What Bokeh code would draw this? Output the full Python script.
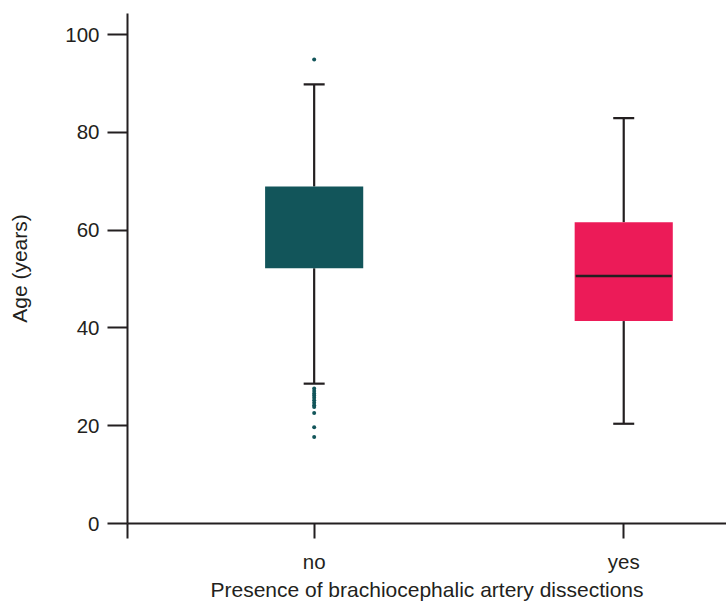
from bokeh.plotting import figure
from bokeh.models import FixedTicker, Range1d
from bokeh.embed import file_html
from bokeh.resources import INLINE

# ---- data ----
categories = ["no", "yes"]
q1 = [52.2, 41.4]
median = [float("nan"), 50.6]      # median of "no" not visible in the reference
q3 = [68.9, 61.6]
lower_whisker = [28.6, 20.4]
upper_whisker = [89.8, 82.9]
box_colors = ["#12555a", "#ec1b58"]
outlier_group = ["no"] * 13
outlier_values = [94.9, 27.6, 27.1, 26.6, 26.2, 25.7, 25.2, 24.7, 24.2, 23.8, 22.6, 19.7, 17.7]
y_ticks = [0, 20, 40, 60, 80, 100]

# ---- layout constants ----
INK = "#231f20"
FONT = "Liberation Sans"
xpos = [i + 1 for i in range(len(categories))]
pos_of = {c: i + 1 for i, c in enumerate(categories)}
x_start, x_end = 0.397, 2.332

p = figure(width=726, height=603, output_backend="svg", toolbar_location=None,
           x_range=Range1d(x_start, x_end), y_range=Range1d(0, 104.3),
           min_border_left=127, min_border_right=0, min_border_top=13,
           min_border_bottom=80)
p.grid.visible = False
p.outline_line_color = None
p.background_fill_color = "white"
p.border_fill_color = "white"

# whiskers
p.segment(x0=xpos, y0=q3, x1=xpos, y1=upper_whisker, line_color=INK, line_width=2.2)
p.segment(x0=xpos, y0=q1, x1=xpos, y1=lower_whisker, line_color=INK, line_width=2.2)
p.scatter(x=xpos, y=upper_whisker, marker="dash", size=21, line_color=INK, line_width=2.2)
p.scatter(x=xpos, y=lower_whisker, marker="dash", size=21, line_color=INK, line_width=2.2)

# boxes
p.vbar(x=xpos, width=0.317, bottom=q1, top=q3, fill_color=box_colors, line_color=None)
p.scatter(x=xpos, y=median, marker="dash", size=96, line_color=INK, line_width=2.5)

# outliers
p.scatter(x=[pos_of[g] for g in outlier_group], y=outlier_values, size=4,
          fill_color=box_colors[0], line_color=None)

# axes
for ax in (p.xaxis[0], p.yaxis[0]):
    ax.axis_line_color = INK
    ax.axis_line_width = 2
    ax.major_tick_line_color = INK
    ax.major_tick_line_width = 2
    ax.major_tick_in = 0
    ax.minor_tick_line_color = None
    ax.major_label_text_font = FONT
    ax.major_label_text_font_size = "20.5px"
    ax.major_label_text_color = INK
    ax.axis_label_text_font = FONT
    ax.axis_label_text_font_size = "21px"
    ax.axis_label_text_font_style = "normal"
    ax.axis_label_text_color = INK

p.yaxis.ticker = FixedTicker(ticks=y_ticks)
p.yaxis.major_tick_out = 20
p.yaxis.major_label_standoff = 8
p.yaxis.axis_label = "Age (years)"
p.yaxis.axis_label_standoff = 31

p.xaxis.ticker = FixedTicker(ticks=[x_start] + xpos)
overrides = {x_start: ""}
for c, x in zip(categories, xpos):
    overrides[x] = c
p.xaxis.major_label_overrides = overrides
p.xaxis.major_tick_out = 15
p.xaxis.major_label_standoff = 11
p.xaxis.axis_label = "Presence of brachiocephalic artery dissections"
p.xaxis.axis_label_standoff = 2

open("out.html", "w").write(file_html(p, INLINE))
